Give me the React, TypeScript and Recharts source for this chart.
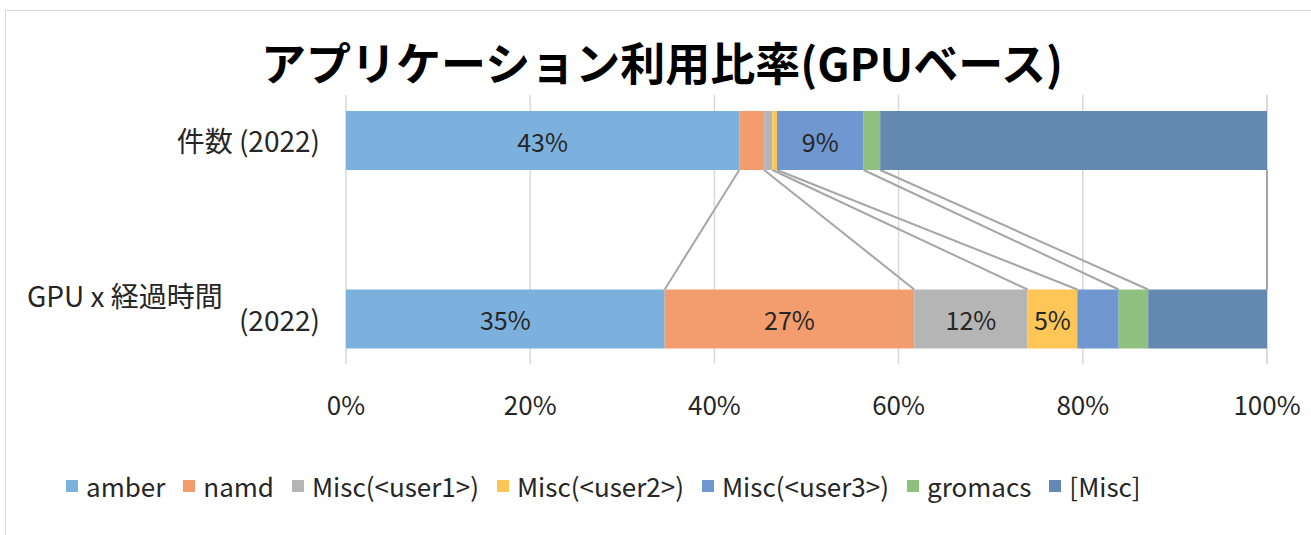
import React from "react"
import { BarChart, Bar, XAxis, YAxis, CartesianGrid, LabelList, Legend } from "recharts"

// categories (rows of the chart) and how their axis labels wrap
const categories = ["件数 (2022)", "GPU x 経過時間 (2022)"]
const categoryLines = [["件数 (2022)"], ["GPU x 経過時間", "(2022)"]]

const seriesNames = ["amber", "namd", "Misc(<user1>)", "Misc(<user2>)", "Misc(<user3>)", "gromacs", "[Misc]"]
const seriesColors = ["#7db1dd", "#f39c6e", "#b5b5b5", "#fdc656", "#7097cf", "#8fc07e", "#6489b0"]

// share in % per series, one array per row
const countShare = [42.7, 2.7, 0.9, 0.5, 9.4, 1.8, 42.0]
const gpuTimeShare = [34.6, 27.1, 12.3, 5.4, 4.5, 3.2, 12.9]

// which rows show a data label, per series
const labelledRows = [[0, 1], [1], [1], [1], [0], [], []]

const xTicks = [0, 20, 40, 60, 80, 100]

const rows = [countShare, gpuTimeShare]
const data = categories.map((cat, r) => {
  const row: any = { cat }
  seriesNames.forEach((_, k) => (row["s" + k] = rows[r][k]))
  return row
})

const FONT = "'Noto Sans CJK JP', 'Noto Sans', sans-serif"
const TEXT = "#262626"

// right end of each series on the top row, filled while the top row renders
const topEdge: { x: number; y: number }[] = []

function makeShape(k: number) {
  return (props: any) => {
    const { x, y, width, height, fill, payload } = props
    const isTop = payload && payload.cat === categories[0]
    if (isTop) topEdge[k] = { x: x + width, y: y + height }
    const t = topEdge[k]
    return (
      <g>
        <rect x={x} y={y} width={width} height={height} fill={fill} />
        {!isTop && t && (
          <line x1={t.x} y1={t.y} x2={x + width} y2={y} stroke="#a6a6a6" strokeWidth={2} />
        )}
      </g>
    )
  }
}

function makeLabel(k: number) {
  return (props: any) => {
    const { x, y, width, height, value, index } = props
    if (!labelledRows[k].includes(index)) return null
    return (
      <text
        x={x + width / 2}
        y={y + height / 2}
        textAnchor="middle"
        dominantBaseline="central"
        fontSize={25}
        fontFamily={FONT}
        fill={TEXT}
      >
        {Math.round(value) + "%"}
      </text>
    )
  }
}

function CategoryTick(props: any) {
  const { x, y, index } = props
  const lines = categoryLines[index]
  if (lines.length === 1) {
    return (
      <text x={x - 18} y={y} textAnchor="end" dominantBaseline="central" fontSize={28} fontFamily={FONT} fill={TEXT}>
        {lines[0]}
      </text>
    )
  }
  return (
    <g>
      <text x={x - 311} y={y - 24} textAnchor="start" dominantBaseline="central" fontSize={28} fontFamily={FONT} fill={TEXT}>
        {lines[0]}
      </text>
      <text x={x - 18} y={y} textAnchor="end" dominantBaseline="central" fontSize={28} fontFamily={FONT} fill={TEXT}>
        {lines[1]}
      </text>
    </g>
  )
}

function PercentTick(props: any) {
  const { x, y, payload } = props
  return (
    <text x={x} y={y - 13} textAnchor="middle" dominantBaseline="central" fontSize={26} fontFamily={FONT} fill={TEXT}>
      {payload.value + "%"}
    </text>
  )
}

function GridLine(props: any) {
  const { x1, x2, y1, y2 } = props
  return <line x1={x1} x2={x2} y1={y1 + 44} y2={y2 - 44} stroke="#d9d9d9" strokeWidth={1.5} />
}

function LegendContent() {
  return (
    <div style={{ display: "flex", alignItems: "center", fontFamily: FONT, fontSize: 26, color: TEXT, whiteSpace: "nowrap" }}>
      {seriesNames.map((name, k) => (
        <div key={name} style={{ display: "flex", alignItems: "center", marginRight: 18 }}>
          <span style={{ width: 12, height: 12, background: seriesColors[k], display: "inline-block", marginRight: 8 }} />
          <span>{name}</span>
        </div>
      ))}
    </div>
  )
}

export default function App() {
  return (
    <div style={{ position: "absolute", left: 0, top: 0, width: 1311, height: 535, overflow: "hidden", background: "#fff" }}>
      <div
        style={{
          position: "absolute",
          left: 5,
          top: 10,
          width: 1400,
          height: 700,
          border: "1.5px solid #d9d9d9",
        }}
      />
      <div
        style={{
          position: "absolute",
          left: 0,
          width: 1324,
          top: 32,
          textAlign: "center",
          fontFamily: FONT,
          fontWeight: 700,
          fontSize: 45,
          lineHeight: "60px",
          color: "#000",
        }}
      >
        アプリケーション利用比率(GPUベース)
      </div>
      <div style={{ position: "absolute", left: 0, top: 0 }}>
        <BarChart
          width={1311}
          height={535}
          data={data}
          layout="vertical"
          margin={{ top: 51, right: 44, bottom: 97, left: 0 }}
          barSize={59}
        >
          <CartesianGrid horizontal={false} vertical={GridLine} />
          <XAxis
            type="number"
            domain={[0, 100]}
            ticks={xTicks}
            axisLine={false}
            tickLine={false}
            tick={PercentTick}
            height={30}
          />
          <YAxis
            type="category"
            dataKey="cat"
            width={346}
            axisLine={false}
            tickLine={false}
            tick={CategoryTick}
          />
          <Legend
            layout="horizontal"
            verticalAlign="middle"
            align="center"
            content={LegendContent}
            wrapperStyle={{ position: "absolute", left: 66, top: 467, width: "auto" }}
          />
          {seriesNames.map((name, k) => (
            <Bar
              key={name}
              dataKey={"s" + k}
              name={name}
              stackId="a"
              fill={seriesColors[k]}
              shape={makeShape(k)}
              isAnimationActive={false}
            >
              <LabelList dataKey={"s" + k} content={makeLabel(k)} />
            </Bar>
          ))}
        </BarChart>
      </div>
    </div>
  )
}
